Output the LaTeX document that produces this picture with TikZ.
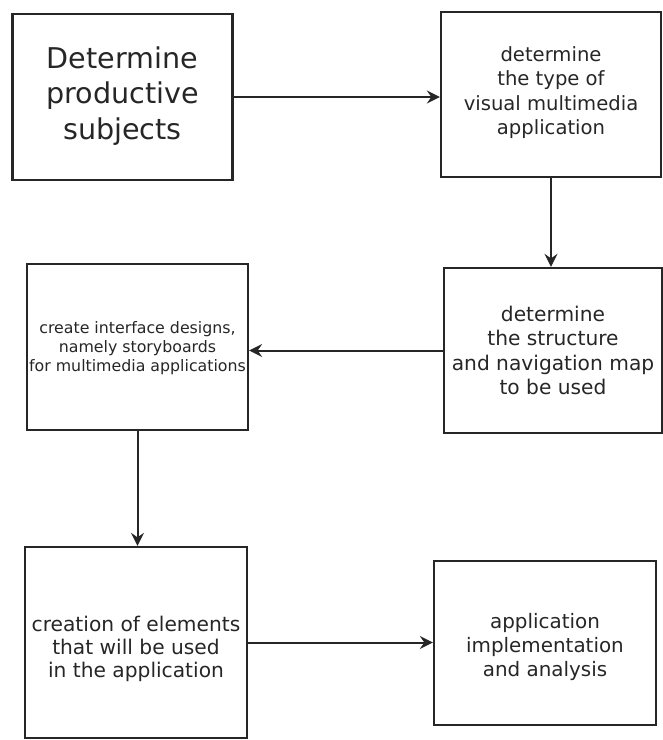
\documentclass[tikz,border=0pt]{standalone}
\usepackage{fontspec}
\setmainfont{DejaVu Sans}
\usetikzlibrary{arrows.meta}
\definecolor{ink}{HTML}{262626}
\tikzset{
  box/.style={draw=ink, line width=2.3pt, inner sep=0pt},
  txt/.style={text=ink, align=center, inner sep=0pt},
  conn/.style={draw=ink, line width=2pt, -{Stealth[length=13pt,width=13pt,inset=4.5pt]}},
}
\begin{document}
\begin{tikzpicture}[x=1pt,y=-1pt]
\useasboundingbox (0,0) rectangle (663,740);
\node[box, minimum width=220pt, minimum height=166pt] (b1) at (122.5,97) {};
\node[txt, font=\fontsize{28.6}{35.5}\selectfont] (t1) at ([yshift=1pt]b1.center) {Determine\\productive\\subjects};
\node[box, minimum width=220pt, minimum height=165pt] (b2) at (551,94.5) {};
\node[txt, font=\fontsize{19.6}{24.5}\selectfont] (t2) at ([yshift=2pt]b2.center) {determine\\the type of\\visual multimedia\\application};
\node[box, minimum width=218pt, minimum height=165pt] (b3) at (553,350.5) {};
\node[txt, font=\fontsize{20.2}{24.3}\selectfont] (t3) at (b3.center) {determine\\the structure\\and navigation map\\to be used};
\node[box, minimum width=221pt, minimum height=166pt] (b4) at (137.5,347) {};
\node[txt, font=\fontsize{15.8}{19}\selectfont] (t4) at ([yshift=-1.5pt]b4.center) {create interface designs,\\namely storyboards\\for multimedia applications};
\node[box, minimum width=222pt, minimum height=191pt] (b5) at (136,642.5) {};
\node[txt, font=\fontsize{20.2}{23}\selectfont] (t5) at ([yshift=-6.5pt]b5.center) {creation of elements\\that will be used\\in the application};
\node[box, minimum width=222pt, minimum height=164pt] (b6) at (545,643) {};
\node[txt, font=\fontsize{19.9}{24}\selectfont] (t6) at ([yshift=-4.5pt]b6.center) {application\\implementation\\and analysis};
\draw[conn] (b1.east) -- (b1.east -| b2.west);
\draw[conn] (b2.south) -- (b2.south |- b3.north);
\draw[conn] (b3.west) -- (b3.west -| b4.east);
\draw[conn] (b4.south) -- (b4.south |- b5.north);
\draw[conn] (b5.east) -- (b5.east -| b6.west);
\end{tikzpicture}
\end{document}
